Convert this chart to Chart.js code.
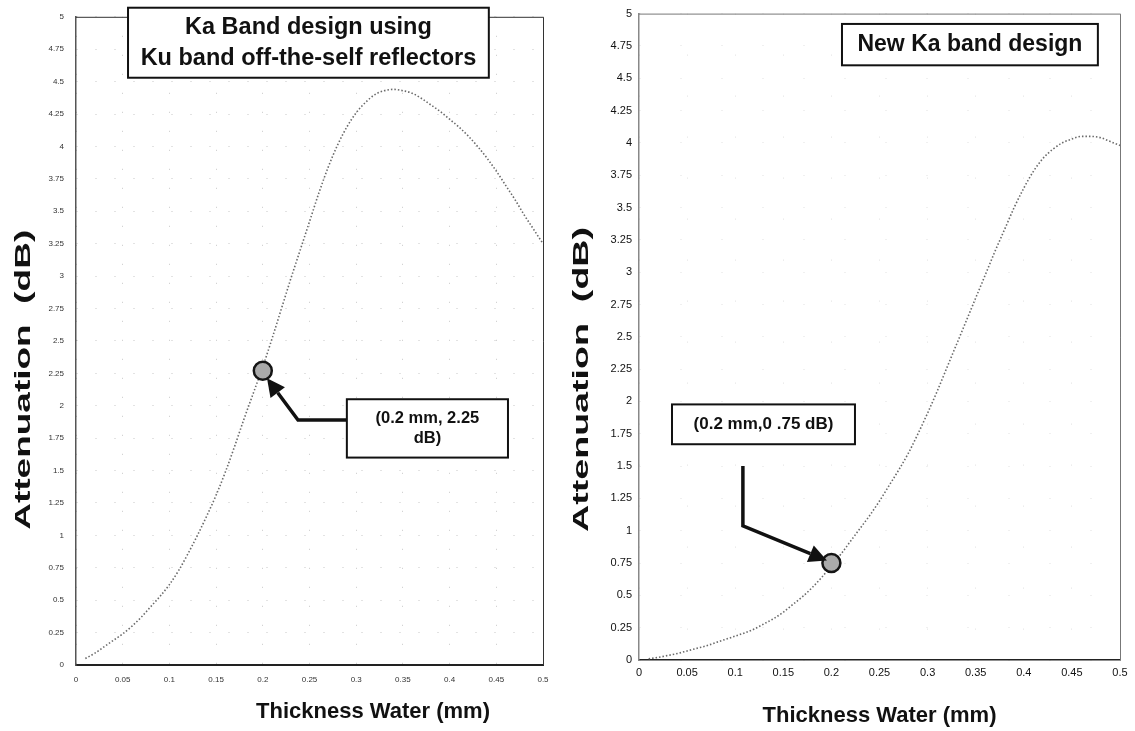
<!DOCTYPE html>
<html>
<head>
<meta charset="utf-8">
<script src="https://cdn.jsdelivr.net/npm/chart.js@4.4.0/dist/chart.umd.min.js"></script>
<style>
  html, body { margin: 0; padding: 0; background: #fff; }
  #wrap { position: relative; width: 1135px; height: 731px; overflow: hidden; }
  #left { position: absolute; left: 0; top: 0; }
  #right { position: absolute; left: 560px; top: 0; }
</style>
</head>
<body>
<div id="wrap">
  <canvas id="left" width="560" height="731"></canvas>
  <canvas id="right" width="575" height="731"></canvas>
</div>
<script>
// water thickness (mm), same sampling for both curves
const thickness = [0.01, 0.02, 0.03, 0.04, 0.05, 0.06, 0.07, 0.08, 0.09, 0.1,
  0.11, 0.12, 0.13, 0.14, 0.15, 0.16, 0.17, 0.18, 0.19, 0.2,
  0.21, 0.22, 0.23, 0.24, 0.25, 0.26, 0.27, 0.28, 0.29, 0.3,
  0.31, 0.32, 0.33, 0.34, 0.35, 0.36, 0.37, 0.38, 0.39, 0.4,
  0.41, 0.42, 0.43, 0.44, 0.45, 0.46, 0.47, 0.48, 0.49, 0.5];

// attenuation (dB), Ka band with Ku band off-the-shelf reflectors
const attenKuReflectors = [0.05, 0.09, 0.14, 0.19, 0.24, 0.3, 0.37, 0.45, 0.53, 0.62,
  0.73, 0.86, 1.0, 1.15, 1.31, 1.49, 1.69, 1.9, 2.1, 2.3,
  2.52, 2.75, 2.98, 3.2, 3.42, 3.64, 3.84, 4.01, 4.15, 4.26,
  4.34, 4.4, 4.43, 4.44, 4.43, 4.41, 4.37, 4.32, 4.27, 4.21,
  4.15, 4.08, 4.0, 3.91, 3.81, 3.7, 3.59, 3.47, 3.36, 3.25];

// attenuation (dB), new Ka band design
const attenNewDesign = [0.01, 0.02, 0.035, 0.05, 0.07, 0.09, 0.11, 0.135, 0.16, 0.185,
  0.21, 0.24, 0.28, 0.32, 0.37, 0.43, 0.49, 0.56, 0.64, 0.73,
  0.82, 0.92, 1.02, 1.12, 1.23, 1.35, 1.47, 1.6, 1.75, 1.91,
  2.08, 2.26, 2.44, 2.62, 2.8, 2.98, 3.16, 3.33, 3.5, 3.65,
  3.78, 3.88, 3.95, 4.0, 4.03, 4.05, 4.05, 4.04, 4.01, 3.98];

// highlighted points
const markerKuX = [0.2];
const markerKuY = [2.27];
const markerNewX = [0.2];
const markerNewY = [0.75];

const xTicks = [0, 0.05, 0.1, 0.15, 0.2, 0.25, 0.3, 0.35, 0.4, 0.45, 0.5];
const yTicks = [0, 0.25, 0.5, 0.75, 1, 1.25, 1.5, 1.75, 2, 2.25, 2.5, 2.75,
  3, 3.25, 3.5, 3.75, 4, 4.25, 4.5, 4.75, 5];

const xTitle = "Thickness Water (mm)";
const yTitle = "Attenuation  (dB)";

const FONT = "'Liberation Sans', Arial, sans-serif";

// draws the frame, text boxes, arrows and axis titles
const overlay = {
  id: "overlay",
  afterDatasetsDraw(chart, args, o) {
    const { ctx, chartArea } = chart;
    const sx = chart.scales.x, sy = chart.scales.y;
    const px = v => sx.getPixelForValue(v);
    const py = v => sy.getPixelForValue(v);
    ctx.save();

    // top and right edge of plot
    ctx.strokeStyle = o.frameColor;
    ctx.lineWidth = 1;
    ctx.beginPath();
    ctx.moveTo(chartArea.left, chartArea.top + 0.5);
    ctx.lineTo(chartArea.right + 0.5, chartArea.top + 0.5);
    ctx.lineTo(chartArea.right + 0.5, chartArea.bottom);
    ctx.stroke();

    // arrows
    (o.arrows || []).forEach(a => {
      const pts = a.pts.map(p => [px(p[0]), py(p[1])]);
      ctx.strokeStyle = "#111";
      ctx.fillStyle = "#111";
      ctx.lineWidth = 3.5;
      ctx.lineJoin = "miter";
      const n = pts.length;
      const tip = pts[n - 1], prev = pts[n - 2];
      const ang = Math.atan2(tip[1] - prev[1], tip[0] - prev[0]);
      const headLen = 18, headW = 9;
      const bx = tip[0] - Math.cos(ang) * headLen, by = tip[1] - Math.sin(ang) * headLen;
      ctx.beginPath();
      ctx.moveTo(pts[0][0], pts[0][1]);
      for (let i = 1; i < n - 1; i++) ctx.lineTo(pts[i][0], pts[i][1]);
      ctx.lineTo(bx, by);
      ctx.stroke();
      ctx.beginPath();
      ctx.moveTo(tip[0], tip[1]);
      ctx.lineTo(bx + Math.sin(ang) * headW, by - Math.cos(ang) * headW);
      ctx.lineTo(bx - Math.sin(ang) * headW, by + Math.cos(ang) * headW);
      ctx.closePath();
      ctx.fill();
    });

    // labelled boxes
    (o.boxes || []).forEach(b => {
      const x0 = px(b.x0), x1 = px(b.x1), y0 = py(b.y0), y1 = py(b.y1);
      ctx.fillStyle = "#fff";
      ctx.fillRect(x0, y0, x1 - x0, y1 - y0);
      ctx.strokeStyle = "#111";
      ctx.lineWidth = 2;
      ctx.strokeRect(x0, y0, x1 - x0, y1 - y0);
      ctx.fillStyle = "#111";
      ctx.font = "bold " + b.size + "px " + FONT;
      ctx.textAlign = "center";
      ctx.textBaseline = "middle";
      const cx = (x0 + x1) / 2, cy = (y0 + y1) / 2;
      b.lines.forEach((t, i) => {
        ctx.fillText(t, cx, cy + (i - (b.lines.length - 1) / 2) * b.lineHeight);
      });
    });

    ctx.fillStyle = "#111";
    ctx.textAlign = "center";
    ctx.textBaseline = "middle";

    // x axis title
    ctx.font = "bold 22px " + FONT;
    ctx.fillText(o.xTitle.text, px(o.xTitle.x), chartArea.bottom + o.xTitle.dy);

    // y axis title, drawn stretched along its length like the scan
    ctx.font = "bold 22px " + FONT;
    const w = ctx.measureText(o.yTitle.text).width;
    ctx.translate(o.yTitle.cx, py(o.yTitle.y));
    ctx.rotate(-Math.PI / 2);
    ctx.scale(o.yTitle.length / w, 1);
    ctx.fillText(o.yTitle.text, 0, 0);
    ctx.restore();
  }
};

function makeChart(id, cfg) {
  const curve = thickness.map((t, i) => ({ x: t, y: cfg.values[i] }));
  const marker = cfg.markerX.map((t, i) => ({ x: t, y: cfg.markerY[i] }));
  return new Chart(document.getElementById(id), {
    type: "scatter",
    data: {
      datasets: [
        {
          data: marker,
          order: 0,
          pointRadius: 9,
          pointBackgroundColor: "#aaaaaa",
          pointBorderColor: "#151515",
          pointBorderWidth: 2.5,
          showLine: false
        },
        {
          data: curve,
          order: 1,
          showLine: true,
          borderColor: "#6a6a6a",
          borderWidth: 1.6,
          borderDash: [1.5, 2],
          cubicInterpolationMode: "monotone",
          pointRadius: 0
        }
      ]
    },
    options: {
      responsive: false,
      animation: false,
      layout: { padding: { left: 0, top: cfg.top, right: cfg.right, bottom: 0 } },
      plugins: {
        legend: { display: false },
        tooltip: { enabled: false },
        overlay: {
          frameColor: cfg.frameColor,
          boxes: cfg.boxes,
          arrows: cfg.arrows,
          xTitle: cfg.xTitle,
          yTitle: cfg.yTitle
        }
      },
      scales: {
        x: {
          type: "linear",
          min: 0,
          max: 0.5,
          afterBuildTicks: s => { s.ticks = xTicks.map(v => ({ value: v })); },
          afterFit: s => { s.height = cfg.xAxisHeight; },
          ticks: {
            autoSkip: false,
            maxRotation: 0,
            padding: cfg.xTickPad,
            color: cfg.tickColor,
            font: { family: FONT, size: cfg.tickSize },
            callback: v => String(v)
          },
          grid: { color: cfg.gridColor, lineWidth: 1, drawTicks: false },
          border: { display: true, color: cfg.xAxisColor, width: cfg.xAxisWidth, dash: cfg.gridDash }
        },
        y: {
          type: "linear",
          min: 0,
          max: 5,
          afterBuildTicks: s => { s.ticks = yTicks.map(v => ({ value: v })); },
          afterFit: s => { s.width = cfg.yAxisBox; },
          ticks: {
            padding: cfg.yTickPad,
            color: cfg.tickColor,
            font: { family: FONT, size: cfg.tickSize },
            callback: v => String(v)
          },
          grid: { color: cfg.gridColor, lineWidth: 1, drawTicks: false },
          border: { display: true, color: cfg.yAxisColor, width: 1.5, dash: cfg.gridDash }
        }
      }
    },
    plugins: [overlay]
  });
}

makeChart("left", {
  values: attenKuReflectors,
  markerX: markerKuX,
  markerY: markerKuY,
  top: 14,
  right: 17,
  xAxisHeight: 66,
  yAxisBox: 76,
  xTickPad: 10,
  yTickPad: 12,
  tickSize: 8,
  tickColor: "#333",
  gridColor: "rgba(0,0,0,0.22)",
  gridDash: [1, 18],
  xAxisColor: "#222",
  xAxisWidth: 2,
  yAxisColor: "#555",
  frameColor: "#333",
  xTitle: { text: xTitle, x: 0.318, dy: 47 },
  yTitle: { text: yTitle, cx: 24, y: 2.2, length: 300 },
  boxes: [
    { x0: 0.0557, x1: 0.442, y0: 5.07, y1: 4.53, size: 23.5, lineHeight: 31,
      lines: ["Ka Band design using", "Ku band off-the-self reflectors"] },
    { x0: 0.290, x1: 0.4625, y0: 2.05, y1: 1.6, size: 16.5, lineHeight: 20,
      lines: ["(0.2 mm, 2.25", "dB)"] }
  ],
  arrows: [
    { pts: [[0.290, 1.89], [0.2377, 1.89], [0.2045, 2.212]] }
  ]
});

makeChart("right", {
  values: attenNewDesign,
  markerX: markerNewX,
  markerY: markerNewY,
  top: 10,
  right: 15,
  xAxisHeight: 71,
  yAxisBox: 79,
  xTickPad: 6,
  yTickPad: 7,
  tickSize: 11,
  tickColor: "#111",
  gridColor: "rgba(0,0,0,0.12)",
  gridDash: [1, 40],
  xAxisColor: "#222",
  xAxisWidth: 1.5,
  yAxisColor: "#888",
  frameColor: "#777",
  xTitle: { text: xTitle, x: 0.25, dy: 56 },
  yTitle: { text: yTitle, cx: 22, y: 2.17, length: 305 },
  boxes: [
    { x0: 0.211, x1: 0.477, y0: 4.92, y1: 4.6, size: 23, lineHeight: 26,
      lines: ["New Ka band design"] },
    { x0: 0.0343, x1: 0.2245, y0: 1.977, y1: 1.669, size: 17, lineHeight: 20,
      lines: ["(0.2 mm,0 .75 dB)"] }
  ],
  arrows: [
    { pts: [[0.108, 1.5], [0.108, 1.038], [0.1954, 0.769]] }
  ]
});
</script>
</body>
</html>
